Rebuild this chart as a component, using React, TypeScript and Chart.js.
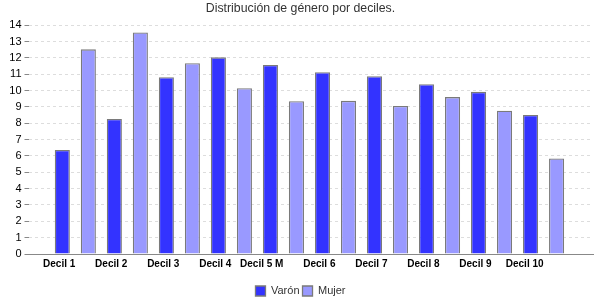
import React, { useEffect, useRef } from "react";
import { Chart, registerables } from "chart.js";

Chart.register(...registerables);

const categories = ["Decil 1", "Decil 2", "Decil 3", "Decil 4", "Decil 5 M", "Decil 6", "Decil 7", "Decil 8", "Decil 9", "Decil 10"];
const varonValues = [6.37, 8.26, 10.81, 12.03, 11.56, 11.12, 10.87, 10.39, 9.92, 8.5];
const mujerValues = [12.52, 13.55, 11.67, 10.14, 9.35, 9.37, 9.05, 9.6, 8.76, 5.84];
const yTicks = [0, 1, 2, 3, 4, 5, 6, 7, 8, 9, 10, 11, 12, 13, 14];
const titleText = "Distribución de género por deciles.";
const seriesNames = ["Varón", "Mujer"];

export default function App() {
  const ref = useRef<HTMLCanvasElement | null>(null);

  useEffect(() => {
    if (!ref.current) return;
    const toPoints = (vals: number[]) => vals.map((v, i) => ({ x: i + 1, y: v }));
    const chart = new Chart(ref.current, {
      type: "bar",
      data: {
        datasets: [
          {
            label: seriesNames[0],
            data: toPoints(varonValues),
            backgroundColor: "#3333ff",
            borderColor: "#7a7a7a",
            borderWidth: 1.3,
            categoryPercentage: 1,
            barPercentage: 0.58,
          },
          {
            label: seriesNames[1],
            data: toPoints(mujerValues),
            backgroundColor: "#9999ff",
            borderColor: "#7a7a7a",
            borderWidth: 1.3,
            categoryPercentage: 1,
            barPercentage: 0.58,
          },
        ],
      },
      options: {
        responsive: false,
        animation: false,
        layout: { padding: { top: 0, right: 7, bottom: -6.5, left: 8 } },
        plugins: {
          title: {
            display: true,
            text: titleText,
            color: "#333",
            font: { family: "'Liberation Sans', Arial, sans-serif", size: 12.3, weight: "normal" },
            padding: { top: 1, bottom: 9.4 },
          },
          legend: {
            position: "bottom",
            labels: {
              color: "#333",
              font: { family: "'Liberation Sans', Arial, sans-serif", size: 11 },
              boxWidth: 10,
              boxHeight: 10,
              padding: 3,
            },
          },
          tooltip: { enabled: false },
        },
        scales: {
          x: {
            type: "linear",
            offset: false,
            min: 0.1,
            max: 10.95,
            afterBuildTicks: (scale: any) => {
              scale.ticks = categories.map((_, i) => ({ value: i + 1 }));
            },
            afterFit: (scale: any) => {
              scale.height = 28.5;
            },
            ticks: {
              autoSkip: false,
              maxRotation: 0,
              align: "end",
              padding: 4.5,
              color: "#000",
              font: { family: "'Liberation Sans', Arial, sans-serif", size: 10, weight: "bold" },
              callback: (value: any) => categories[Math.round(Number(value)) - 1] ?? "",
            },
            grid: { display: false, drawTicks: false, tickLength: 0 },
            border: { display: true, color: "#888", width: 1 },
          },
          y: {
            min: 0,
            max: 14,
            afterBuildTicks: (scale: any) => {
              scale.ticks = yTicks.map((v) => ({ value: v }));
            },
            afterFit: (scale: any) => {
              scale.width = 20.5;
            },
            ticks: {
              autoSkip: false,
              stepSize: 1,
              padding: 3,
              color: "#000",
              font: { family: "'Liberation Sans', Arial, sans-serif", size: 11 },
            },
            grid: {
              color: "#dddddd",
              tickColor: "#888",
              tickLength: 4,
              lineWidth: 1,
            },
            border: { display: false, dash: [3, 3] },
          },
        },
      },
    });
    return () => chart.destroy();
  }, []);

  return (
    <div style={{ position: "fixed", left: 0, top: 0, width: 600, height: 300, background: "#fff" }}>
      <canvas ref={ref} width={600} height={300} style={{ display: "block" }} />
    </div>
  );
}
